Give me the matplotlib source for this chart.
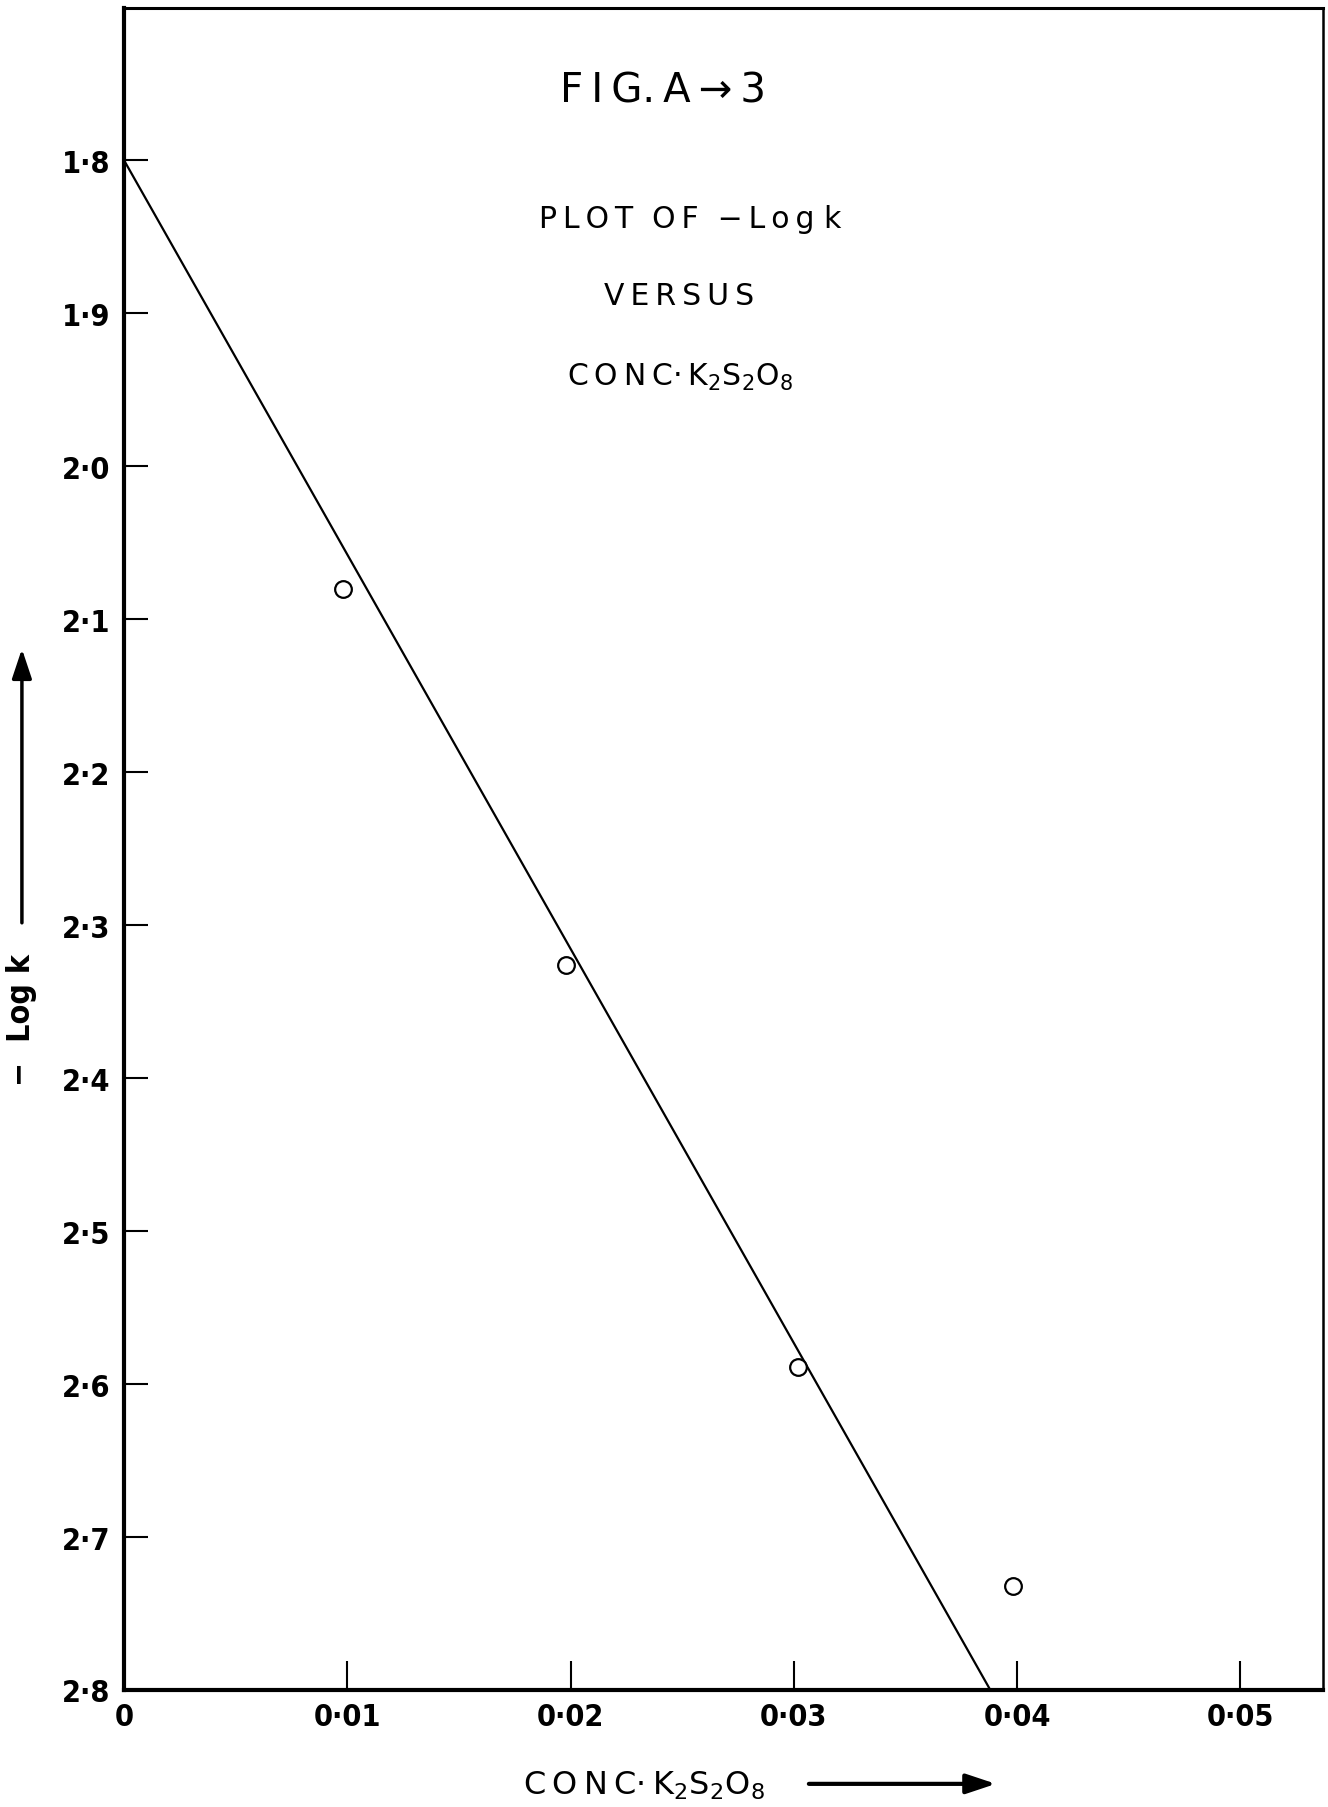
#!/usr/bin/env python3

import matplotlib
matplotlib.use("Agg")
import matplotlib.pyplot as plt
from matplotlib.patches import FancyArrowPatch

# measured points: -log k against K2S2O8 concentration
conc = [0.0098, 0.0198, 0.0302, 0.0398]
neg_log_k = [2.080, 2.326, 2.589, 2.732]

# straight line drawn through the points
fit_conc = [0.0, 0.0388]
fit_neg_log_k = [1.80, 2.80]

x_ticks = [0.0, 0.01, 0.02, 0.03, 0.04, 0.05]
x_tick_labels = ["0", "0·01", "0·02", "0·03", "0·04", "0·05"]
y_ticks = [1.8, 1.9, 2.0, 2.1, 2.2, 2.3, 2.4, 2.5, 2.6, 2.7, 2.8]
y_tick_labels = ["1·8", "1·9", "2·0", "2·1", "2·2", "2·3", "2·4",
                 "2·5", "2·6", "2·7", "2·8"]

NARROW = ["Liberation Sans Narrow", "DejaVu Sans"]


def spaced(s):
    # wide lettering like the stencil text on the original
    return "\u2009".join(s)


def main():
    fig = plt.figure(figsize=(13.28, 18.08), dpi=100)
    ax = fig.add_axes([124 / 1328, 1 - 1691 / 1808,
                       (1323 - 124) / 1328, (1691 - 9) / 1808])

    ax.plot(fit_conc, fit_neg_log_k, color="black", lw=1.6)
    ax.plot(conc, neg_log_k, "o", ms=12, mfc="white", mec="black", mew=1.6)

    ax.set_xlim(0, 0.0537)
    ax.set_ylim(2.8, 1.7005)

    tick_font = dict(family=NARROW, stretch="condensed",
                     weight="bold", size=22)
    ax.set_xticks(x_ticks)
    ax.set_xticklabels(x_tick_labels, fontdict=tick_font)
    ax.set_yticks(y_ticks)
    ax.set_yticklabels(y_tick_labels, fontdict=tick_font)
    ax.tick_params(axis="x", direction="in", length=21, width=1.5, pad=9)
    ax.tick_params(axis="y", direction="in", length=17, width=1.5, pad=10)

    ax.spines["left"].set_linewidth(3)
    ax.spines["bottom"].set_linewidth(3)
    ax.spines["top"].set_linewidth(2.2)
    ax.spines["right"].set_linewidth(1.8)

    box_font = dict(family="DejaVu Sans", ha="center", va="center",
                    transform=ax.transAxes)
    ax.text(0.4495, 0.951, "F\u2009I\u2009G.\u2009A\u2009→\u20093",
            size=29, **box_font)
    ax.text(0.472, 0.875, spaced("PLOT") + "  " + spaced("OF") + "  "
            + spaced("−Log") + " k", size=21.5, **box_font)
    ax.text(0.463, 0.829, spaced("VERSUS"), size=21.5, **box_font)
    ax.text(0.464, 0.781,
            spaced("CONC") + "·\u2009K$_2$S$_2$O$_8$", size=21.5, **box_font)

    # axis captions with their hand drawn arrows
    fig.text(0.0165, 0.4358, "−  Log k", rotation=90, ha="center",
             va="center", family=NARROW, stretch="condensed",
             weight="bold", size=23)
    fig.add_artist(FancyArrowPatch(
        (0.0165, 0.4875), (0.0165, 0.6421), transform=fig.transFigure,
        arrowstyle="-|>,head_length=0.9,head_width=0.3", lw=2.5,
        color="black", mutation_scale=20))

    fig.text(0.485, 0.0125, spaced("CONC") + "·\u2009K$_2$S$_2$O$_8$",
             ha="center", va="center", family="DejaVu Sans", size=23)
    fig.add_artist(FancyArrowPatch(
        (0.607, 0.0128), (0.752, 0.0128), transform=fig.transFigure,
        arrowstyle="-|>,head_length=0.9,head_width=0.3", lw=3,
        color="black", mutation_scale=20))

    fig.savefig("out.png", dpi=100)


if __name__ == "__main__":
    main()
